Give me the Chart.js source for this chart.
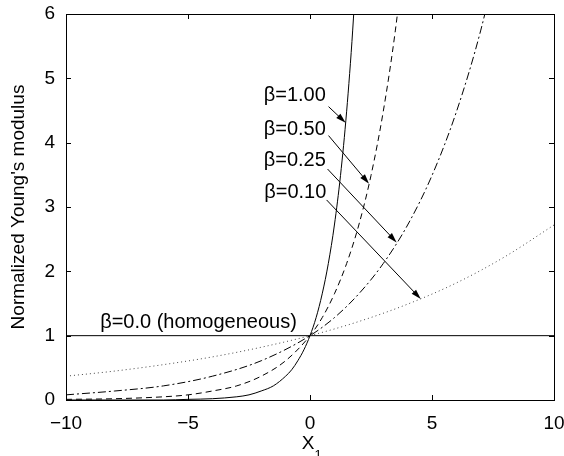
<!DOCTYPE html>
<html>
<head>
<meta charset="utf-8">
<script src="https://cdn.jsdelivr.net/npm/chart.js@4.4.1/dist/chart.umd.min.js"></script>
<style>
  html, body { margin: 0; padding: 0; background: #fff; }
  #wrap { width: 564px; height: 456px; }
</style>
</head>
<body>
<div id="wrap"><canvas id="chart"></canvas></div>
<script>
// values (E / E0 against X1)
const xsB100 = [-10, -6, -5, -4, -3, -2.5, -2, -1.5, -1, -0.75, -0.5, -0.25, 0, 0.25, 0.5, 0.75, 1, 1.25, 1.5, 1.75, 2];
const ysB100 = [0, 0, 0.01, 0.02, 0.05, 0.08, 0.14, 0.22, 0.37, 0.47, 0.61, 0.78, 1, 1.28, 1.65, 2.12, 2.72, 3.49, 4.48, 5.75, 7.39];

const xsB050 = [-10, -8, -6, -5, -4, -3, -2, -1, 0, 0.5, 1, 1.5, 2, 2.5, 3, 3.5, 4];
const ysB050 = [0.01, 0.02, 0.05, 0.08, 0.14, 0.22, 0.37, 0.61, 1, 1.28, 1.65, 2.12, 2.72, 3.49, 4.48, 5.75, 7.39];

const xsB025 = [-10, -8, -6, -4, -2, 0, 1, 2, 3, 4, 5, 6, 7, 8];
const ysB025 = [0.08, 0.14, 0.22, 0.37, 0.61, 1, 1.28, 1.65, 2.12, 2.72, 3.49, 4.48, 5.75, 7.39];

const xsB010 = [-10, -8, -6, -4, -2, 0, 2, 4, 6, 8, 10];
const ysB010 = [0.37, 0.45, 0.55, 0.67, 0.82, 1, 1.22, 1.49, 1.82, 2.23, 2.72];

const xsB000 = [-10, 10];
const ysB000 = [1, 1];

const xTicks = [-10, -5, 0, 5, 10];
const yTicks = [0, 1, 2, 3, 4, 5, 6];

const seriesLabels = ['β=1.00', 'β=0.50', 'β=0.25', 'β=0.10', 'β=0.0 (homogeneous)'];

const FONT = 'Liberation Sans, Arial, Helvetica, sans-serif';

function pts(xs, ys) {
    return xs.map((x, i) => ({ x: x, y: ys[i] }));
}

// annotation placement (data units): label right edge / centre, arrow tail, arrow tip
const notes = [
    { text: seriesLabels[0], tx: 0.65, ty: 4.74, x0: 0.76, y0: 4.56, x1: 1.46, y1: 4.31 },
    { text: seriesLabels[1], tx: 0.65, ty: 4.20, x0: 0.76, y0: 4.11, x1: 2.42, y1: 3.36 },
    { text: seriesLabels[2], tx: 0.65, ty: 3.73, x0: 0.72, y0: 3.59, x1: 3.55, y1: 2.45 },
    { text: seriesLabels[3], tx: 0.67, ty: 3.22, x0: 0.68, y0: 3.11, x1: 4.54, y1: 1.57 }
];

function arrow(ctx, x0, y0, x1, y1) {
    const a = Math.atan2(y1 - y0, x1 - x0);
    const len = 10, half = 3;
    ctx.beginPath();
    ctx.moveTo(x0, y0);
    ctx.lineTo(x1 - Math.cos(a) * len * 0.8, y1 - Math.sin(a) * len * 0.8);
    ctx.stroke();
    ctx.beginPath();
    ctx.moveTo(x1, y1);
    ctx.lineTo(x1 - Math.cos(a) * len - Math.sin(a) * half, y1 - Math.sin(a) * len + Math.cos(a) * half);
    ctx.lineTo(x1 - Math.cos(a) * len + Math.sin(a) * half, y1 - Math.sin(a) * len - Math.cos(a) * half);
    ctx.closePath();
    ctx.fill();
}

const decor = {
    id: 'decor',
    afterDatasetsDraw(chart) {
        const ctx = chart.ctx;
        const xs = chart.scales.x, ys = chart.scales.y;
        const a = chart.chartArea;
        ctx.save();
        ctx.strokeStyle = '#000';
        ctx.fillStyle = '#000';
        ctx.lineWidth = 1;

        // box
        ctx.strokeRect(Math.round(a.left) + 0.5, Math.round(a.top) + 0.5,
            Math.round(a.right - a.left), Math.round(a.bottom - a.top));

        // inward ticks on all four sides
        const tl = 5;
        ctx.beginPath();
        xTicks.forEach(v => {
            const p = Math.round(xs.getPixelForValue(v)) + 0.5;
            ctx.moveTo(p, a.bottom); ctx.lineTo(p, a.bottom - tl);
            ctx.moveTo(p, a.top); ctx.lineTo(p, a.top + tl);
        });
        yTicks.forEach(v => {
            const p = Math.round(ys.getPixelForValue(v)) + 0.5;
            ctx.moveTo(a.left, p); ctx.lineTo(a.left + tl, p);
            ctx.moveTo(a.right, p); ctx.lineTo(a.right - tl, p);
        });
        ctx.stroke();

        // arrows and their labels
        ctx.font = '20px ' + FONT;
        ctx.textBaseline = 'middle';
        notes.forEach(n => {
            ctx.textAlign = 'right';
            ctx.fillText(n.text, xs.getPixelForValue(n.tx), ys.getPixelForValue(n.ty));
            arrow(ctx, xs.getPixelForValue(n.x0), ys.getPixelForValue(n.y0),
                xs.getPixelForValue(n.x1), ys.getPixelForValue(n.y1));
        });
        ctx.textAlign = 'left';
        ctx.fillText(seriesLabels[4], xs.getPixelForValue(-8.6), ys.getPixelForValue(1.2));

        // axis titles
        ctx.textAlign = 'center';
        ctx.textBaseline = 'alphabetic';
        ctx.font = '19px ' + FONT;
        ctx.fillText('X', 308, 449);
        ctx.font = '13px ' + FONT;
        ctx.fillText('1', 318, 459);

        ctx.font = '19px ' + FONT;
        ctx.translate(19, (a.top + a.bottom) / 2);
        ctx.rotate(-Math.PI / 2);
        ctx.textBaseline = 'middle';
        ctx.fillText("Normalized Young's modulus", 0, 0);
        ctx.restore();
    }
};

const lineBase = {
    showLine: true,
    pointRadius: 0,
    borderColor: '#000',
    borderWidth: 1,
    tension: 0.4,
    cubicInterpolationMode: 'monotone',
    fill: false
};

new Chart(document.getElementById('chart'), {
    type: 'scatter',
    data: {
        datasets: [
            Object.assign({}, lineBase, { label: seriesLabels[0], data: pts(xsB100, ysB100) }),
            Object.assign({}, lineBase, { label: seriesLabels[1], data: pts(xsB050, ysB050), borderDash: [6, 4] }),
            Object.assign({}, lineBase, { label: seriesLabels[2], data: pts(xsB025, ysB025), borderDash: [8, 3, 2, 3] }),
            Object.assign({}, lineBase, { label: seriesLabels[3], data: pts(xsB010, ysB010), borderDash: [1, 3], borderColor: '#444' }),
            Object.assign({}, lineBase, { label: seriesLabels[4], data: pts(xsB000, ysB000) })
        ]
    },
    options: {
        responsive: true,
        maintainAspectRatio: false,
        animation: false,
        layout: { padding: { left: 0, top: 14, right: 10, bottom: 0 } },
        plugins: {
            legend: { display: false },
            tooltip: { enabled: false }
        },
        scales: {
            x: {
                type: 'linear',
                min: -10,
                max: 10,
                afterFit: s => { s.height = 56; s.paddingLeft = 0; s.paddingRight = 0; },
                afterBuildTicks: s => { s.ticks = xTicks.map(v => ({ value: v })); },
                grid: { display: false },
                border: { display: false },
                ticks: {
                    padding: 4,
                    color: '#000',
                    font: { family: FONT, size: 19 },
                    maxRotation: 0,
                    callback: v => String(v).replace('-', '\u2212')
                }
            },
            y: {
                min: 0,
                max: 6,
                afterFit: s => { s.width = 66; s.paddingTop = 0; s.paddingBottom = 0; },
                afterBuildTicks: s => { s.ticks = yTicks.map(v => ({ value: v })); },
                grid: { display: false },
                border: { display: false },
                ticks: {
                    padding: 3,
                    color: '#000',
                    font: { family: FONT, size: 19 }
                }
            }
        }
    },
    plugins: [decor]
});
</script>
</body>
</html>
